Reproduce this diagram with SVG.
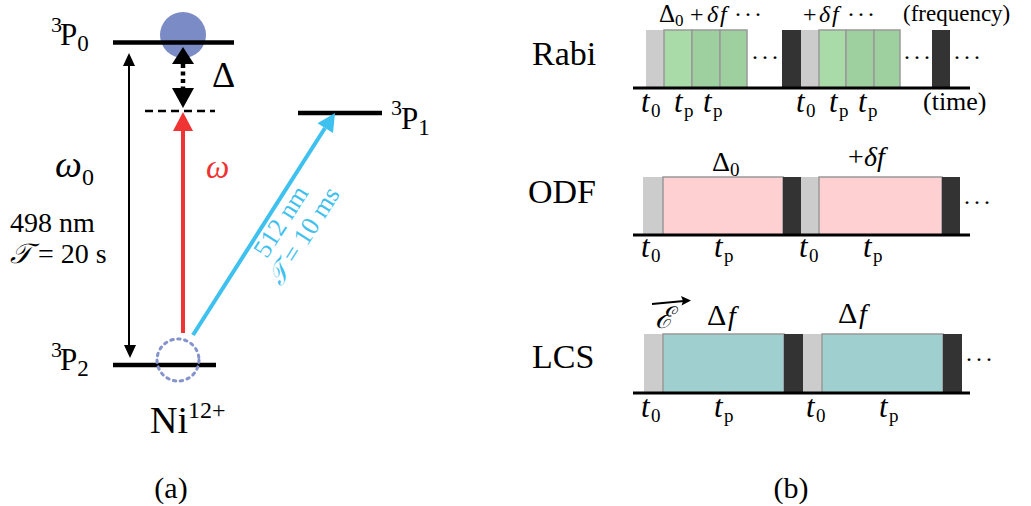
<svg xmlns="http://www.w3.org/2000/svg" width="1031" height="506" viewBox="0 0 1031 506">
<style>
text{font-family:"Liberation Serif","DejaVu Serif",serif;fill:#000}
.lvl{stroke:#000;stroke-width:4.5;fill:none}
.it{font-style:italic}
.lab{font-size:34px}
.m{font-size:28px}
.mt{font-size:24px}
.s{font-size:19px}
.tl{stroke:#000;stroke-width:3}
.gray{fill:#cccccc}
.dark{fill:#333333}
.blk{stroke:#999;stroke-width:1.5}
.g1{fill:#a8dba8}
.g2{fill:#9dcf9f}
.pink{fill:#ffd0d1}
.teal{fill:#a0cfcf}
.dots{font-size:24px;letter-spacing:2px}
.blue{fill:#3ec1ee}
</style>
<defs>
  <g id="t0"><text class="it" font-size="31" x="1" y="0">t</text><text class="s" x="11" y="5">0</text></g>
  <g id="tp"><text class="it" font-size="31" x="1" y="0">t</text><text class="s" x="11" y="5">p</text></g>
</defs>
<g id="panel-a">
  <g id="level-3P0">
    <circle cx="183" cy="35" r="23" fill="#7b8bc6"/>
    <line class="lvl" x1="113" y1="42.5" x2="234" y2="42.5"/>
    <text x="51" y="32" font-size="22">3</text>
    <text x="60" y="45" font-size="31">P<tspan font-size="23" dy="6">0</tspan></text>
  </g>
  <g id="level-virtual">
    <line x1="145" y1="111" x2="215" y2="111" stroke="#000" stroke-width="2.5" stroke-dasharray="8 5"/>
  </g>
  <g id="level-3P1">
    <line class="lvl" x1="298" y1="113" x2="382" y2="113"/>
    <text x="391" y="115" font-size="22">3</text>
    <text x="401" y="129" font-size="31">P<tspan font-size="23" dy="6">1</tspan></text>
  </g>
  <g id="level-3P2">
    <line class="lvl" x1="113" y1="365" x2="216" y2="365"/>
    <circle cx="178" cy="360" r="21" fill="none" stroke="#8594cc" stroke-width="3" stroke-dasharray="2.5 4.5" stroke-linecap="round"/>
    <text x="51" y="357" font-size="22">3</text>
    <text x="60" y="370" font-size="31">P<tspan font-size="23" dy="6">2</tspan></text>
  </g>
  <g id="connectors">
    <line x1="129" y1="64" x2="129" y2="346" stroke="#000" stroke-width="2"/>
    <polygon points="129,53 123,66 135,66" fill="#000"/>
    <polygon points="130,358 124,345 136,345" fill="#000"/>
    <line x1="183" y1="64" x2="183" y2="89" stroke="#000" stroke-width="4.5" stroke-dasharray="4 3.5"/>
    <polygon points="183,47 172,64 194,64" fill="#000"/>
    <polygon points="183,108 172,88 194,88" fill="#000"/>
    <line x1="183" y1="333" x2="183" y2="128" stroke="#f03434" stroke-width="4"/>
    <polygon points="183,112 173,131 193,131" fill="#f03434"/>
    <line x1="193" y1="335" x2="325" y2="128" stroke="#3ec1ee" stroke-width="4"/>
    <polygon points="335,113 333,133 317.5,123.3" fill="#3ec1ee"/>
  </g>
  <text x="212" y="87" font-size="36">Δ</text>
  <text x="206" y="178" font-size="33" class="it" style="fill:#ee3333">ω</text>
  <text x="55" y="177" font-size="38" class="it">ω</text>
  <text x="82" y="185" font-size="24">0</text>
  <text x="10" y="232" font-size="28">498 nm</text>
  <text x="10" y="263" font-size="28"><tspan class="it">𝒯</tspan> = 20 s</text>
  <g transform="translate(288,226) rotate(-57.4)">
    <text class="blue" x="0" y="0" font-size="26" text-anchor="middle">512 nm</text>
    <text class="blue" x="0" y="27" font-size="26" text-anchor="middle"><tspan class="it">𝒯</tspan> = 10 ms</text>
  </g>
  <text x="150" y="433" font-size="38">Ni</text>
  <text x="188" y="418" font-size="24">12+</text>
  <text x="171" y="498" font-size="30" text-anchor="middle">(a)</text>
</g>
<g id="panel-b">
  <g id="rabi">
    <text x="532" y="65" class="lab">Rabi</text>
    <rect class="gray" x="646" y="30" width="18" height="58"/>
    <rect class="g1 blk" x="664" y="30" width="28" height="58"/>
    <rect class="g2 blk" x="692" y="30" width="28" height="58"/>
    <rect class="g2 blk" x="720" y="30" width="27" height="58"/>
    <text x="751" y="65" class="dots">···</text>
    <rect class="dark" x="782" y="30" width="19" height="58"/>
    <rect class="gray" x="801" y="30" width="18" height="58"/>
    <rect class="g1 blk" x="819" y="30" width="27" height="58"/>
    <rect class="g2 blk" x="846" y="30" width="28" height="58"/>
    <rect class="g2 blk" x="874" y="30" width="26" height="58"/>
    <text x="903" y="65" class="dots">···</text>
    <rect class="dark" x="932" y="30" width="18" height="58"/>
    <text x="953" y="65" class="dots">···</text>
    <line class="tl" x1="633" y1="88" x2="970" y2="88"/>
    <text x="659" y="22" font-size="25">Δ</text>
    <text x="675" y="26" font-size="17">0</text>
    <text x="690" y="22" class="mt">+</text>
    <text x="707" y="22" class="mt it">δ</text>
    <text x="720" y="22" class="mt it">f</text>
    <text x="734" y="22" class="dots">···</text>
    <text x="803" y="22" class="mt">+</text>
    <text x="819" y="22" class="mt it">δ</text>
    <text x="832" y="22" class="mt it">f</text>
    <text x="847" y="22" class="dots">···</text>
    <text x="903" y="21" font-size="23">(frequency)</text>
    <text x="923" y="110" font-size="26">(time)</text>
    <use href="#t0" x="640" y="112"/>
    <use href="#tp" x="673" y="112"/>
    <use href="#tp" x="702" y="112"/>
    <use href="#t0" x="795" y="112"/>
    <use href="#tp" x="828" y="112"/>
    <use href="#tp" x="857" y="112"/>
  </g>
  <g id="odf">
    <text x="528" y="203" class="lab">ODF</text>
    <rect class="gray" x="643" y="177" width="20" height="58"/>
    <rect class="pink blk" x="663" y="177" width="120" height="58"/>
    <rect class="dark" x="783" y="177" width="18" height="58"/>
    <rect class="gray" x="801" y="177" width="18" height="58"/>
    <rect class="pink blk" x="819" y="177" width="123" height="58"/>
    <rect class="dark" x="942" y="177" width="18" height="58"/>
    <text x="963" y="210" class="dots">···</text>
    <line class="tl" x1="633" y1="235" x2="970" y2="235"/>
    <text x="712" y="171" font-size="28">Δ</text>
    <text x="730" y="176" class="s">0</text>
    <text x="848" y="166" class="m">+</text>
    <text x="864" y="166" class="m it">δ</text>
    <text x="877" y="166" class="m it">f</text>
    <use href="#t0" x="640" y="257"/>
    <use href="#tp" x="713" y="257"/>
    <use href="#t0" x="798" y="257"/>
    <use href="#tp" x="862" y="257"/>
  </g>
  <g id="lcs">
    <text x="532" y="368" class="lab">LCS</text>
    <rect class="gray" x="644" y="334" width="19" height="59"/>
    <rect class="teal blk" x="663" y="334" width="121" height="59"/>
    <rect class="dark" x="784" y="334" width="19" height="59"/>
    <rect class="gray" x="803" y="334" width="19" height="59"/>
    <rect class="teal blk" x="822" y="334" width="121" height="59"/>
    <rect class="dark" x="943" y="334" width="19" height="59"/>
    <text x="965" y="367" class="dots">···</text>
    <line class="tl" x1="633" y1="393" x2="970" y2="393"/>
    <text x="655" y="328" font-size="30" class="it">ℰ</text>
    <line x1="652" y1="304" x2="684" y2="301" stroke="#000" stroke-width="1.8"/>
    <polygon points="691,300.5 681,296 683,301 681.5,305.5" fill="#000"/>
    <text x="707" y="325" font-size="30">Δ</text>
    <text x="728" y="325" class="m it">f</text>
    <text x="838" y="323" font-size="30">Δ</text>
    <text x="859" y="323" class="m it">f</text>
    <use href="#t0" x="640" y="417"/>
    <use href="#tp" x="713" y="417"/>
    <use href="#t0" x="805" y="417"/>
    <use href="#tp" x="878" y="417"/>
  </g>
  <text x="791" y="498" font-size="30" text-anchor="middle">(b)</text>
</g>
</svg>
